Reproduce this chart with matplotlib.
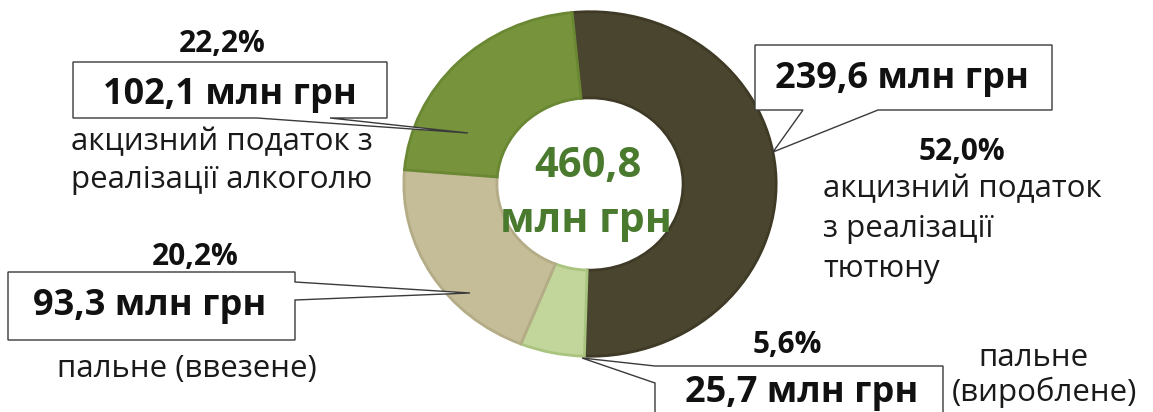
import matplotlib
matplotlib.use("Agg")
import matplotlib.pyplot as plt
from matplotlib.patches import Polygon

# ---- data ----
categories = ["акцизний податок\nз реалізації\nтютюну", "пальне\n(вироблене)",
              "пальне (ввезене)", "акцизний податок з\nреалізації алкоголю"]
values = [239.6, 25.7, 93.3, 102.1]          # млн грн
shares = ["52,0%", "5,6%", "20,2%", "22,2%"]
total_label = "460,8"
unit = "млн грн"
colors = ["#4A452F", "#C2D69B", "#C4BD97", "#77933C"]
edge_colors = ["#3E3A26", "#A9C47F", "#B3AC86", "#6A8733"]

W, H = 1153, 412
fig = plt.figure(figsize=(W / 100, H / 100), dpi=100)
fig.patch.set_facecolor("white")
plt.rcParams['font.family'] = ['Open Sans', 'DejaVu Sans']

def fx(x):
    return x / W

def fy(y):
    return 1 - y / H

# donut axes (pixel box 402..778 x 10..358)
ax = fig.add_axes([fx(402), fy(358), (778 - 402) / W, (358 - 10) / H])
wedges, _ = ax.pie(values, colors=colors, startangle=95.5, counterclock=False,
                   wedgeprops=dict(width=0.5, linewidth=2))
for w, ec in zip(wedges, edge_colors):
    w.set_edgecolor(ec)
ax.set_xlim(-1.01, 1.01)
ax.set_ylim(-1.01, 1.01)
ax.set_aspect('auto')
ax.axis('off')

# overlay axes in pixel coordinates for callouts / text
ov = fig.add_axes([0, 0, 1, 1], facecolor="none")
ov.set_xlim(0, W)
ov.set_ylim(H, 0)
ov.axis('off')

green = "#4A7A2E"
ov.text(588, 177, total_label, ha="center", va="baseline", fontsize=30,
        fontweight="bold", color=green)
ov.text(586, 232, unit, ha="center", va="baseline", fontsize=29.5,
        fontweight="bold", color=green)

def callout(pts):
    ov.add_patch(Polygon(pts, closed=True, facecolor="white",
                         edgecolor="#3a3a3a", linewidth=1.0, zorder=3))

# callout shapes (pixel coords)
callout([(73, 62), (387, 62), (387, 118), (330, 118), (468, 133), (257, 118), (73, 118)])
callout([(8, 272), (295, 272), (295, 282), (470, 293), (295, 300), (295, 340), (8, 340)])
callout([(755, 45), (1052, 45), (1052, 110), (878, 110), (773, 152), (803, 110), (755, 110)])
callout([(655, 366), (943, 366), (943, 430), (655, 430), (655, 383), (582, 358)])

def val(v):
    return f"{v:.1f}".replace(".", ",") + " " + unit

bold_kw = dict(fontweight="bold", color="#111111", va="baseline", zorder=4)
norm_kw = dict(color="#1a1a1a", va="baseline", zorder=4, fontsize=22.5)
vs, ps = 26, 21.5

# tobacco
ov.text(902, 88, val(values[0]), ha="center", fontsize=vs, **bold_kw)
ov.text(962, 160, shares[0], ha="center", fontsize=ps, **bold_kw)
for i, line in enumerate(categories[0].split("\n")):
    ov.text(823, 197 + 40 * i, line, ha="left", **norm_kw)

# fuel produced
ov.text(802, 402, val(values[1]), ha="center", fontsize=vs, **bold_kw)
ov.text(787, 353, shares[1], ha="center", fontsize=ps, **bold_kw)
l1, l2 = categories[1].split("\n")
ov.text(1033, 366, l1, ha="center", **norm_kw)
ov.text(1044, 401, l2, ha="center", **norm_kw)

# fuel imported
ov.text(150, 315, val(values[2]), ha="center", fontsize=vs, **bold_kw)
ov.text(195, 265, shares[2], ha="center", fontsize=ps, **bold_kw)
ov.text(187, 377, categories[2], ha="center", **norm_kw)

# alcohol
ov.text(230, 104, val(values[3]), ha="center", fontsize=vs, **bold_kw)
ov.text(222, 52, shares[3], ha="center", fontsize=ps, **bold_kw)
for i, line in enumerate(categories[3].split("\n")):
    ov.text(222, 150 + 38 * i, line, ha="center", **norm_kw)

fig.savefig("out.png", dpi=100, facecolor="white")
